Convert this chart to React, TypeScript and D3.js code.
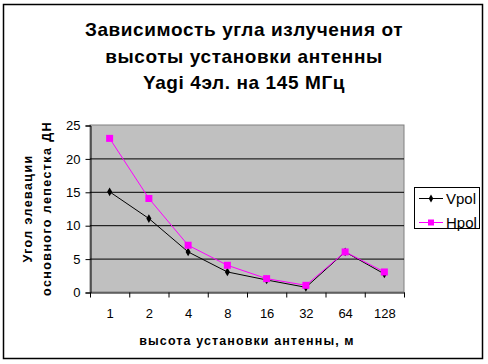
import { useEffect, useRef } from 'react';
import * as d3 from 'd3';

const heights = ['1', '2', '4', '8', '16', '32', '64', '128'];
const vpol = [15, 11, 6, 3, 1.8, 0.7, 6, 2.7];
const hpol = [23, 14, 7, 4, 2, 1, 6, 3];
const yTicks = [0, 5, 10, 15, 20, 25];
const titleLines = ['Зависимость угла излучения от', 'высоты установки антенны', 'Yagi 4эл. на 145 МГц'];

const App = () => {
  const svgRef = useRef<SVGSVGElement>(null);

  useEffect(() => {
    const svg = d3.select(svgRef.current);
    svg.selectAll('*').remove();
    const font = 'Arial, "Liberation Sans", sans-serif';

    const W = 488;
    const H = 364;
    const plot = { left: 90, right: 404, top: 125, bottom: 292 };

    svg.attr('width', W).attr('height', H).style('display', 'block');

    svg.append('rect').attr('width', W).attr('height', H).attr('fill', 'white');
    svg
      .append('rect')
      .attr('x', 3.5)
      .attr('y', 4.5)
      .attr('width', 479)
      .attr('height', 354)
      .attr('fill', 'white')
      .attr('stroke', 'black')
      .attr('stroke-width', 1.5);

    // title
    titleLines.forEach((t, i) => {
      svg
        .append('text')
        .attr('x', 244)
        .attr('y', 36 + i * 26.5)
        .attr('text-anchor', 'middle')
        .style('font-family', font)
        .style('font-weight', 'bold')
        .style('font-size', '19px')
        .style('letter-spacing', '0.6px')
        .text(t);
    });

    const x = d3.scaleBand().domain(heights).range([plot.left, plot.right]);
    const y = d3.scaleLinear().domain([0, 25]).range([plot.bottom, plot.top]);

    svg
      .append('rect')
      .attr('x', plot.left)
      .attr('y', plot.top)
      .attr('width', plot.right - plot.left)
      .attr('height', plot.bottom - plot.top)
      .attr('fill', '#c0c0c0')
      .attr('stroke', '#808080');

    svg
      .append('g')
      .selectAll('line')
      .data(yTicks.filter((d) => d > 0 && d < 25))
      .enter()
      .append('line')
      .attr('x1', plot.left)
      .attr('x2', plot.right)
      .attr('y1', (d) => y(d) + 0.5)
      .attr('y2', (d) => y(d) + 0.5)
      .attr('stroke', 'black');

    // y axis
    const yAxis = svg
      .append('g')
      .attr('transform', `translate(${plot.left + 0.5},0.5)`)
      .call(d3.axisLeft(y).tickValues(yTicks).tickSize(5).tickPadding(5));
    yAxis.select('.domain').attr('stroke', 'black');
    yAxis.selectAll('line').attr('stroke', 'black');
    yAxis
      .selectAll('text')
      .style('font-family', font)
      .style('font-size', '13px')
      .attr('fill', 'black');

    // x axis
    const xAxis = svg
      .append('g')
      .attr('transform', `translate(0.5,${plot.bottom + 0.5})`)
      .call(d3.axisBottom(x).tickSize(0).tickPadding(16));
    xAxis.select('.domain').attr('stroke', 'black');
    xAxis
      .selectAll('text')
      .style('font-family', font)
      .style('font-size', '13px')
      .attr('fill', 'black');
    xAxis
      .selectAll('line.sep')
      .data(d3.range(heights.length + 1))
      .enter()
      .append('line')
      .attr('class', 'sep')
      .attr('x1', (i) => plot.left + i * x.step())
      .attr('x2', (i) => plot.left + i * x.step())
      .attr('y1', 0)
      .attr('y2', 5)
      .attr('stroke', 'black');

    // axis titles
    svg
      .append('text')
      .attr('x', 247)
      .attr('y', 345)
      .attr('text-anchor', 'middle')
      .style('font-family', font)
      .style('font-weight', 'bold')
      .style('font-size', '12.5px')
      .style('letter-spacing', '1.1px')
      .text('высота установки антенны, м');

    const ymid = (plot.top + plot.bottom) / 2;
    ['Угол элевации', 'основного лепестка ДН'].forEach((t, i) => {
      svg
        .append('text')
        .attr('transform', `translate(${32 + i * 19},${ymid}) rotate(-90)`)
        .attr('text-anchor', 'middle')
        .style('font-family', font)
        .style('font-weight', 'bold')
        .style('font-size', '12.5px')
        .style('letter-spacing', '1.4px')
        .text(t);
    });

    const cx = (d: string) => (x(d) as number) + x.bandwidth() / 2;
    const line = d3
      .line<number>()
      .x((_, i) => cx(heights[i]))
      .y((d) => y(d));

    svg
      .append('path')
      .datum(vpol)
      .attr('d', line)
      .attr('fill', 'none')
      .attr('stroke', 'black')
      .attr('stroke-width', 1);
    svg
      .append('g')
      .selectAll('path')
      .data(vpol)
      .enter()
      .append('path')
      .attr('d', d3.symbol(d3.symbolDiamond, 22)())
      .attr('transform', (d, i) => `translate(${cx(heights[i])},${y(d)})`)
      .attr('fill', 'black');

    svg
      .append('path')
      .datum(hpol)
      .attr('d', line)
      .attr('fill', 'none')
      .attr('stroke', '#ff00ff')
      .attr('stroke-width', 1);
    svg
      .append('g')
      .selectAll('rect')
      .data(hpol)
      .enter()
      .append('rect')
      .attr('x', (d, i) => cx(heights[i]) - 3.5)
      .attr('y', (d) => y(d) - 3.5)
      .attr('width', 7)
      .attr('height', 7)
      .attr('fill', '#ff00ff');

    // legend
    const lg = svg.append('g');
    lg.append('rect')
      .attr('x', 414.5)
      .attr('y', 187.5)
      .attr('width', 65)
      .attr('height', 41)
      .attr('fill', 'white')
      .attr('stroke', 'black');
    const items = [
      { name: 'Vpol', color: 'black', ly: 198 },
      { name: 'Hpol', color: '#ff00ff', ly: 222 },
    ];
    items.forEach((it) => {
      lg.append('line')
        .attr('x1', 419)
        .attr('x2', 443)
        .attr('y1', it.ly + 0.5)
        .attr('y2', it.ly + 0.5)
        .attr('stroke', it.color);
      if (it.name === 'Vpol') {
        lg.append('path')
          .attr('d', d3.symbol(d3.symbolDiamond, 18)())
          .attr('transform', `translate(431,${it.ly + 0.5})`)
          .attr('fill', 'black');
      } else {
        lg.append('rect')
          .attr('x', 428)
          .attr('y', it.ly - 2.5)
          .attr('width', 6)
          .attr('height', 6)
          .attr('fill', '#ff00ff');
      }
      lg.append('text')
        .attr('x', 446)
        .attr('y', it.ly + 5.5)
        .style('font-family', font)
        .style('font-size', '15px')
        .text(it.name);
    });
  }, []);

  return (
    <div style={{ position: 'absolute', left: 0, top: 0 }}>
      <svg ref={svgRef}></svg>
    </div>
  );
};

export default App;
